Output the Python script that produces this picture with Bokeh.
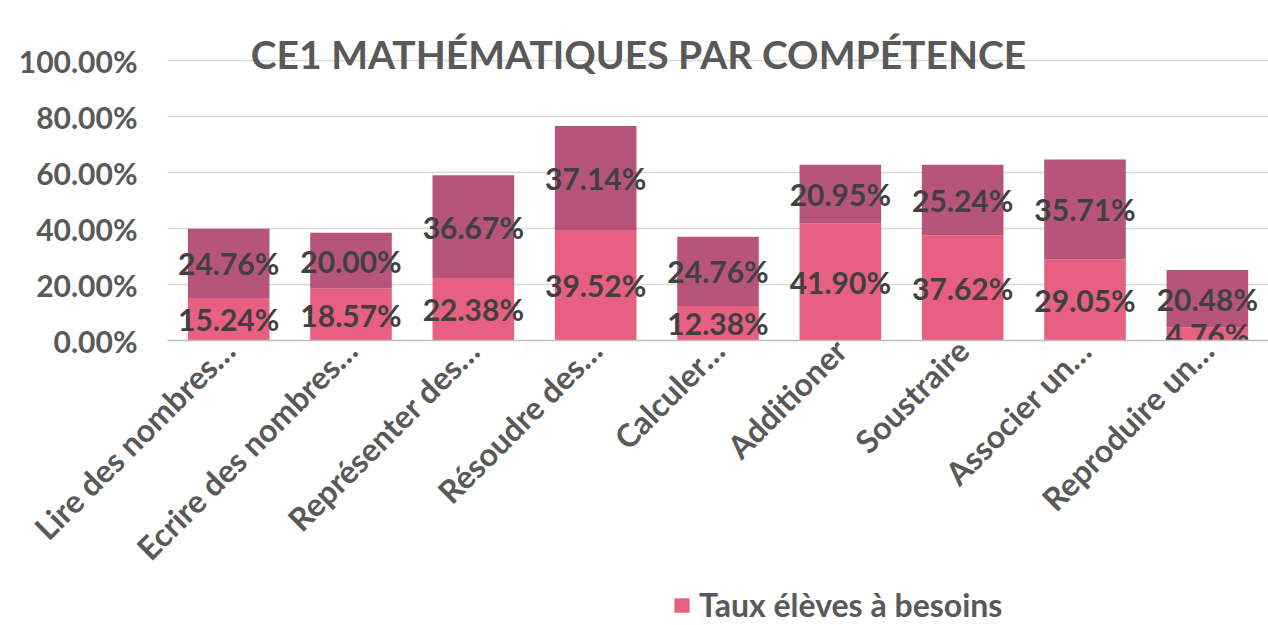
from bokeh.plotting import figure
from bokeh.layouts import column
from bokeh.models import (ColumnDataSource, NumeralTickFormatter, FixedTicker,
                          Legend, LegendItem, Label)
from bokeh.core.properties import value
from bokeh.embed import file_html
from bokeh.resources import INLINE
import math

categories = ["Lire des nombres…", "Ecrire des nombres…", "Représenter des…",
              "Résoudre des…", "Calculer…", "Additioner", "Soustraire",
              "Associer un…", "Reproduire un…"]
besoins = [15.24, 18.57, 22.38, 39.52, 12.38, 41.90, 37.62, 29.05, 4.76]
fragiles = [24.76, 20.00, 36.67, 37.14, 24.76, 20.95, 25.24, 35.71, 20.48]
y_ticks = [0.0, 0.2, 0.4, 0.6, 0.8, 1.0]
legend_label = "Taux élèves à besoins"

b = [v / 100 for v in besoins]
f = [v / 100 for v in fragiles]
src = ColumnDataSource(dict(
    cat=categories, besoins=b, fragiles=f,
    y1=[v / 2 for v in b],
    y2=[bb + ff / 2 for bb, ff in zip(b, f)],
    t1=[f"{v:.2f}%" for v in besoins],
    t2=[f"{v:.2f}%" for v in fragiles],
))

FONT = "Lato"
GRAY = "#595959"
PINK = "#E65275"
PLUM = "#B14571"

p = figure(x_range=categories, y_range=(0, 1.18), width=1268, height=586,
           output_backend="svg", toolbar_location=None,
           min_border_left=167, min_border_right=0, min_border_top=10,
           min_border_bottom=246)
p.outline_line_color = None

rs = p.vbar_stack(["besoins", "fragiles"], x="cat", width=0.667, source=src,
                  color=[PINK, PLUM], fill_alpha=0.92, line_color=None)

txt_kw = dict(source=src, text_align="center", text_baseline="middle",
              text_font=value(FONT), text_font_style="bold",
              text_font_size="30px", text_color="#404040")
p.text(x="cat", y="y1", text="t1", **txt_kw)
p.text(x="cat", y="y2", text="t2", **txt_kw)

p.xaxis.axis_line_color = "#BFBFBF"
p.xaxis.axis_line_width = 1.5
p.xaxis.major_tick_line_color = None
p.xaxis.major_tick_out = 0
p.xaxis.major_tick_in = 0
p.xaxis.major_label_orientation = math.pi / 4
p.xaxis.major_label_standoff = 4
p.xaxis.major_label_text_font = FONT
p.xaxis.major_label_text_font_style = "bold"
p.xaxis.major_label_text_font_size = "32px"
p.xaxis.major_label_text_color = GRAY

p.yaxis.ticker = FixedTicker(ticks=y_ticks)
p.yaxis.formatter = NumeralTickFormatter(format="0.00%")
p.yaxis.axis_line_color = None
p.yaxis.major_tick_line_color = None
p.yaxis.minor_tick_line_color = None
p.yaxis.major_tick_out = 0
p.yaxis.major_label_standoff = 30
p.yaxis.major_label_text_font = FONT
p.yaxis.major_label_text_font_style = "bold"
p.yaxis.major_label_text_font_size = "30px"
p.yaxis.major_label_text_color = GRAY

p.xgrid.grid_line_color = None
p.ygrid.grid_line_color = "#D9D9D9"
p.ygrid.grid_line_width = 1.5

title = Label(x=3.85, y=1.025, text="CE1 MATHÉMATIQUES PAR COMPÉTENCE",
              text_align="center", text_baseline="middle",
              text_font=FONT, text_font_style="bold", text_font_size="39px",
              text_color=GRAY)
p.add_layout(title)

# legend strip under the chart; its swatch renderer repeats the first
# series (hidden) so the legend shows that series' fill
leg = figure(x_range=p.x_range, width=1268, height=39, output_backend="svg",
             toolbar_location=None, x_axis_type=None, y_axis_type=None,
             min_border_left=167, min_border_right=0, min_border_top=0,
             min_border_bottom=0)
leg.outline_line_color = None
leg.xgrid.grid_line_color = None
leg.ygrid.grid_line_color = None
swatch = leg.vbar(x="cat", top="besoins", source=src, width=0.667,
                  fill_color=PINK, fill_alpha=0.92, line_color=None,
                  visible=False)
legend = Legend(items=[LegendItem(label=legend_label, renderers=[swatch])],
                location=(505, 1), orientation="horizontal",
                label_text_font=FONT, label_text_font_style="bold",
                label_text_font_size="32px", label_text_color=GRAY,
                glyph_width=19, glyph_height=18, label_standoff=8,
                padding=0, margin=0, border_line_color=None,
                background_fill_alpha=0, inactive_fill_alpha=0)
leg.add_layout(legend, "center")

layout = column(p, leg, spacing=0)
open("out.html", "w").write(file_html(layout, INLINE))
